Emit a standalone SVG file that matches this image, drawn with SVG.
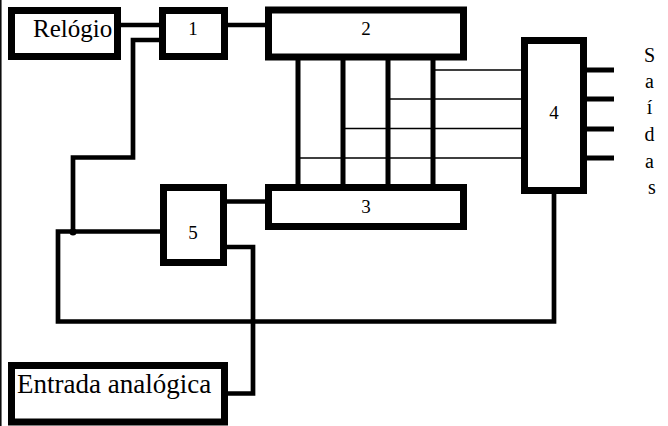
<svg xmlns="http://www.w3.org/2000/svg" width="668" height="426" viewBox="0 0 668 426">
  <style>
    .box { fill: #fff; stroke: #000; stroke-width: 7; }
    .wire { fill: none; stroke: #000; stroke-width: 4.7; stroke-linejoin: miter; }
    .bar { fill: none; stroke: #000; stroke-width: 5; }
    .thin { fill: none; stroke: #000; stroke-width: 1.4; }
    .lbl { font-family: "Liberation Serif", "Times New Roman", serif; fill: #000; }
    .num { font-size: 19px; text-anchor: middle; }
  </style>
  <rect width="668" height="426" fill="#fff"/>
  <!-- frame edge -->
  <line x1="0.8" y1="0" x2="0.8" y2="426" stroke="#000" stroke-width="1.5"/>

  <g id="connectors">
    <!-- thin lines from the bus to block 4 -->
    <path class="thin" d="M433 70 H522 M388 99 H522 M343 128.5 H522 M298 158 H522"/>
    <!-- bus between blocks 2 and 3 -->
    <path class="bar" d="M298 57 V188 M343 57 V188 M388 57 V188 M433 57 V188"/>
    <!-- clock to 1, 1 to 2 -->
    <path class="wire" d="M121 25 H160 M228 25 H266"/>
    <!-- 1 back to junction -->
    <path class="wire" d="M160 40 H133 V157.5 H73 V232"/>
    <!-- loop: junction to 5, down, across to 4 -->
    <path class="wire" d="M161 231.5 H58 V321.5 H554 V192"/>
    <circle cx="73" cy="232" r="3.5" fill="#000"/>
    <!-- 5 to 3 -->
    <path class="wire" d="M226 201.5 H266"/>
    <!-- 5 to analog input -->
    <path class="wire" d="M226 247 H253 V393.5 H227"/>
    <!-- outputs of 4 -->
    <path class="bar" d="M586 70 H614 M586 99 H614 M586 129 H614 M586 158 H614"/>
  </g>

  <g id="relogio">
    <rect class="box" x="11.5" y="10.5" width="106" height="46"/>
    <text class="lbl" x="33" y="37" font-size="25">Relógio</text>
  </g>
  <g id="block1">
    <rect class="box" x="162.5" y="10.5" width="62" height="46"/>
    <text class="lbl num" x="193" y="35">1</text>
  </g>
  <g id="block2">
    <rect class="box" x="268.5" y="10" width="195" height="47"/>
    <text class="lbl num" x="366" y="35">2</text>
  </g>
  <g id="block3">
    <rect class="box" x="268.5" y="187.5" width="195" height="39"/>
    <text class="lbl num" x="366" y="213">3</text>
  </g>
  <g id="block4">
    <rect class="box" x="524.5" y="40.5" width="59" height="150"/>
    <text class="lbl num" x="554" y="119">4</text>
  </g>
  <g id="block5">
    <rect class="box" x="163.5" y="187.5" width="60" height="75"/>
    <text class="lbl num" x="193" y="239">5</text>
  </g>
  <g id="entrada">
    <rect class="box" x="11.5" y="365.5" width="213" height="56.5"/>
    <text class="lbl" x="17" y="393" font-size="27">Entrada analógica</text>
  </g>
  <g id="saidas">
    <text class="lbl" font-size="20" text-anchor="middle">
      <tspan x="652" y="62">S</tspan>
      <tspan x="652" y="88">a</tspan>
      <tspan x="652" y="114">í</tspan>
      <tspan x="652" y="141">d</tspan>
      <tspan x="652" y="168">a</tspan>
      <tspan x="652" y="194">s</tspan>
    </text>
  </g>
</svg>
